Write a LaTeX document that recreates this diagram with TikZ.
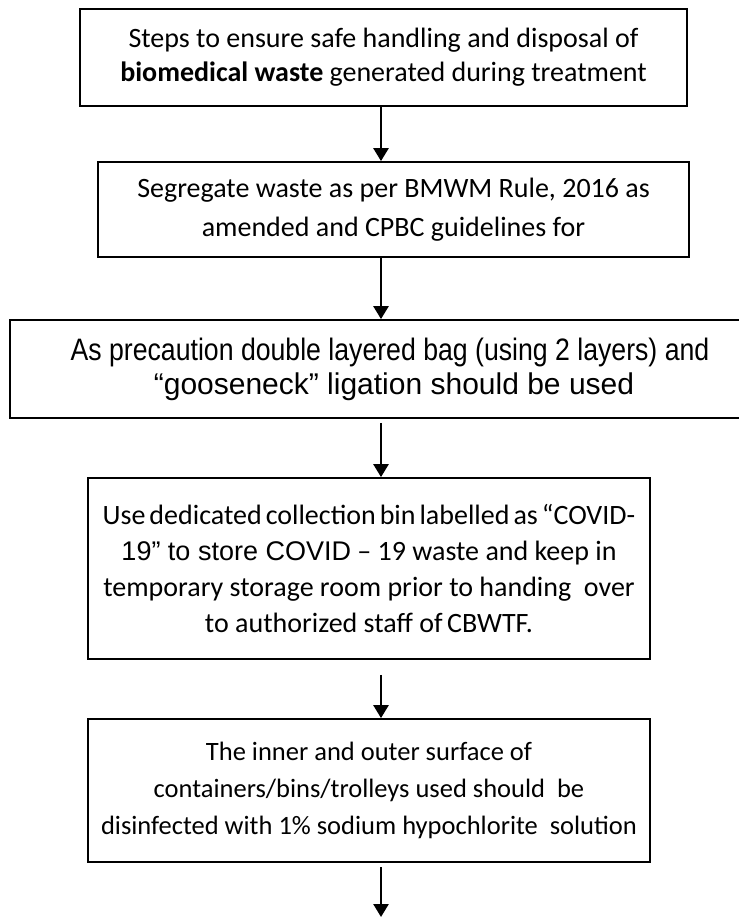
\documentclass[tikz,border=0pt]{standalone}
\usepackage{fontspec}
\setmainfont{Carlito}
\newfontfamily\arialfont{Liberation Sans}
\newfontfamily\narrowfont[FakeStretch=0.86]{Liberation Sans}
\usetikzlibrary{arrows.meta,positioning}

\tikzset{
  stepbox/.style={draw, line width=1.8pt, align=center, inner sep=0pt,
    font=\fontsize{28}{34}\selectfont},
  flow/.style={line width=2.6pt, -{Triangle[width=15pt,length=13pt]}}
}

\begin{document}
\begin{tikzpicture}[x=1pt,y=-1pt]
    \useasboundingbox (0,0) rectangle (738,917);
    \coordinate (axis) at (381,0);

    % the five steps
    \node[stepbox, minimum width=607, minimum height=97] (start) at (383.5,57.5)
      {Steps to ensure safe handling and disposal of\\
       \textbf{biomedical waste} generated during treatment};
    \node[stepbox, minimum width=591, minimum height=95,
          font=\fontsize{28}{39}\selectfont] (segregate) at (393.5,209.5)
      {Segregate waste as per BMWM Rule, 2016 as\\
       amended and CPBC guidelines for};
    \node[stepbox, minimum width=760, minimum height=98] (bag) at (390,369)
      {{\narrowfont\fontsize{31}{41}\selectfont As precaution double layered bag (using 2 layers) and}\\
       {\arialfont\fontsize{30}{41}\selectfont\hspace*{8pt}“gooseneck” ligation should be used}};
    \node[stepbox, minimum width=562, minimum height=181,
          font=\fontsize{28}{36}\selectfont] (bin) at (369,568.5)
      {{\spaceskip=4pt Use dedicated collection bin labelled as “COVID-}\\
       {\arialfont\fontsize{27}{36}\selectfont 19” to store COVID} – 19 waste and keep in\\
       temporary storage room prior to handing\ \ over\\
       to authorized staff of\,CBWTF.};
    \node[stepbox, minimum width=562, minimum height=143,
          font=\fontsize{26.5}{37}\selectfont] (clean) at (369,790.5)
      {The inner and outer surface of\\
       containers/bins/trolleys used should\ \ be\\
       disinfected with 1\% sodium hypochlorite\ \ solution};

    % arrows between steps
    \coordinate (tail) at (381,867);
    \coordinate (end) at (381,917);
    \draw[flow] (start.south -| axis) -- (segregate.north -| axis);
    \draw[flow] (segregate.south -| axis) -- (bag.north -| axis);
    \draw[flow, shorten <=4pt] (bag.south -| axis) -- (bin.north -| axis);
    \draw[flow, shorten <=15pt] (bin.south -| axis) -- (clean.north -| axis);
    \draw[flow] (tail) -- (end);
\end{tikzpicture}
\end{document}
